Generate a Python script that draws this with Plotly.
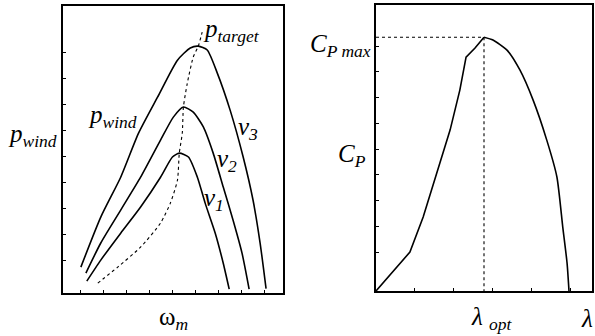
import plotly.graph_objects as go

W, H = 595, 336

# --- Left panel: wind power vs rotor speed for three wind speeds ---
omega_v3 = [1.00, 1.87, 2.74, 3.52, 4.35, 5.22, 5.78, 6.13, 6.52, 6.96, 7.52, 8.09, 8.52, 8.83, 9.09]
p_v3     = [0.73, 2.66, 4.20, 5.90, 7.29, 8.72, 9.19, 9.26, 9.11, 8.22, 6.79, 4.98, 3.32, 1.66, -0.10]

omega_v2 = [1.22, 1.87, 2.74, 3.61, 4.48, 5.04, 5.48, 5.91, 6.35, 6.78, 7.22, 7.65, 8.04, 8.35]
p_v2     = [0.50, 1.66, 2.93, 4.20, 5.63, 6.52, 6.91, 6.71, 6.14, 5.13, 3.82, 2.54, 1.27, -0.12]

omega_v1 = [1.26, 1.87, 2.74, 3.61, 4.48, 5.00, 5.30, 5.70, 6.09, 6.43, 6.87, 7.22, 7.48]
p_v1     = [0.19, 1.00, 2.04, 3.05, 4.20, 4.98, 5.13, 4.98, 4.20, 3.20, 2.04, 0.88, -0.12]

omega_target = [1.74, 2.61, 3.61, 4.48, 4.91, 5.22, 5.30, 5.43, 5.48, 5.65, 5.91, 6.13, 6.30]
p_target     = [0.11, 0.73, 1.50, 2.43, 3.20, 4.09, 5.13, 5.90, 6.91, 7.83, 8.84, 9.26, 9.80]

left_xticks = [1, 2, 3, 4, 5, 6, 7, 8, 9]
left_yticks = [1, 2, 3, 4, 5, 6, 7, 8, 9]

# --- Right panel: power coefficient vs tip speed ratio ---
lam = [0.00, 0.62, 0.87, 1.21, 1.56, 1.90, 2.15, 2.31, 2.54, 2.77, 3.00, 3.36, 3.69, 4.03, 4.38, 4.64, 4.79, 4.90, 4.95]
cp  = [0.00, 1.09, 1.51, 2.87, 4.57, 6.24, 7.79, 9.07, 9.42, 9.84, 9.73, 9.34, 8.57, 7.40, 5.85, 4.42, 2.48, 1.09, 0.00]
lam_opt = 2.77
cp_max = 9.84

right_xticks = [1, 2, 3, 4, 5]
right_yticks = [1.5, 2.5, 3.5, 4.5, 5.5, 6.5, 7.5, 8.5, 9.5]

FONT = "Liberation Serif"
line = dict(color="black", width=1.6)
dot = dict(color="black", width=1.1, dash="dot")
smooth = dict(shape="spline", smoothing=0.6)

fig = go.Figure()
fig.add_trace(go.Scatter(x=omega_v3, y=p_v3, mode="lines", line=dict(line, **smooth), xaxis="x", yaxis="y"))
fig.add_trace(go.Scatter(x=omega_v2, y=p_v2, mode="lines", line=dict(line, **smooth), xaxis="x", yaxis="y"))
fig.add_trace(go.Scatter(x=omega_v1, y=p_v1, mode="lines", line=dict(line, **smooth), xaxis="x", yaxis="y"))
fig.add_trace(go.Scatter(x=omega_target, y=p_target, mode="lines", line=dict(dot, **smooth), xaxis="x", yaxis="y"))

# rising branch keeps its corners, falling branch is a smooth arc
ipk = cp.index(max(cp))
fig.add_trace(go.Scatter(x=lam[:ipk + 1], y=cp[:ipk + 1], mode="lines", line=line, xaxis="x2", yaxis="y2"))
fig.add_trace(go.Scatter(x=lam[ipk:], y=cp[ipk:], mode="lines", line=dict(line, **smooth), xaxis="x2", yaxis="y2"))
fig.add_trace(go.Scatter(x=[0, lam_opt, lam_opt], y=[cp_max, cp_max, 0], mode="lines", line=dot, xaxis="x2", yaxis="y2"))


def px(x):
    return x / W


def py(y):
    return 1 - y / H


axis_common = dict(showline=True, linecolor="black", linewidth=1.6, mirror=True,
                   ticks="inside", ticklen=3, tickcolor="black", tickwidth=1,
                   showticklabels=False, showgrid=False, zeroline=False, fixedrange=True)

fig.update_layout(
    width=W, height=H,
    margin=dict(l=0, r=0, t=0, b=0),
    paper_bgcolor="white", plot_bgcolor="white",
    showlegend=False,
    xaxis=dict(axis_common, domain=[px(63), px(283)], range=[0.22, 9.83], tickvals=left_xticks, anchor="y"),
    yaxis=dict(axis_common, domain=[py(293), py(6)], range=[-0.27, 10.81], tickvals=left_yticks, anchor="x"),
    xaxis2=dict(axis_common, domain=[px(376), px(592)], range=[0, 5.54], tickvals=right_xticks, anchor="y2"),
    yaxis2=dict(axis_common, domain=[py(291), py(5)], range=[0, 11.09], tickvals=right_yticks, anchor="x2"),
)

labels = [
    ("<i>p</i><sub><i>target</i></sub>", 231, 30),
    ("<i>p</i><sub><i>wind</i></sub>", 112, 116),
    ("<i>p</i><sub><i>wind</i></sub>", 32, 135),
    ("<i>v</i><sub><i>3</i></sub>", 248, 128),
    ("<i>v</i><sub><i>2</i></sub>", 227, 160),
    ("<i>v</i><sub><i>1</i></sub>", 214, 199),
    ("ω<sub><i>m</i></sub>", 173, 318),
    ("<i>C</i><sub><i>P max</i></sub>", 340, 46),
    ("<i>C</i><sub><i>P</i></sub>", 352, 155),
    ("<i>λ</i> <sub><i>opt</i></sub>", 492, 318),
    ("<i>λ</i>", 587, 318),
]
for text, x, y in labels:
    fig.add_annotation(text=text, x=px(x), y=py(y), xref="paper", yref="paper",
                       xanchor="center", yanchor="middle", showarrow=False,
                       font=dict(family=FONT, size=25, color="black"))

fig.write_html("out.html")
